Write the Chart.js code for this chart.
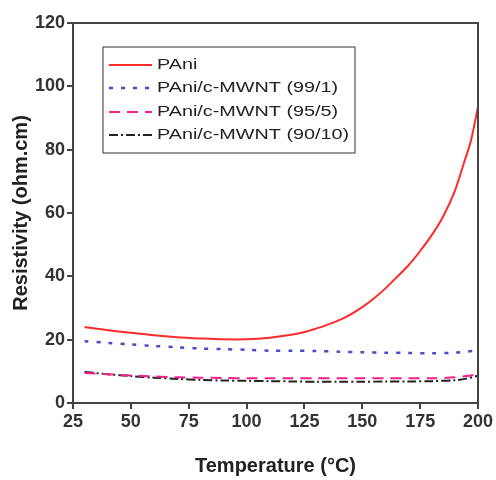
<!DOCTYPE html>
<html>
<head>
<meta charset="utf-8">
<script src="https://cdn.jsdelivr.net/npm/chart.js@4.4.1/dist/chart.umd.min.js"></script>
<style>
html,body{margin:0;padding:0;background:#fff;}
canvas{display:block;}
</style>
</head>
<body>
<canvas id="c" width="496" height="480"></canvas>
<script>
const seriesLabels = ["PAni", "PAni/c-MWNT (99/1)", "PAni/c-MWNT (95/5)", "PAni/c-MWNT (90/10)"];
const tempPAni = [30, 40, 50, 60, 70, 80, 90, 100, 110, 120, 125, 130, 136, 143, 150, 155, 160, 165, 170, 175, 180, 185, 190, 194, 197, 200];
const resPAni  = [24, 23, 22.2, 21.4, 20.8, 20.4, 20.1, 20.1, 20.6, 21.6, 22.4, 23.5, 25, 27.2, 30.3, 33, 36.2, 39.8, 43.5, 48, 53, 59, 67, 76, 83, 93.6];
const tempMix = [30, 40, 50, 60, 70, 80, 90, 100, 110, 120, 130, 140, 150, 160, 170, 180, 190, 195, 200];
const res99_1  = [19.5, 19, 18.5, 18, 17.6, 17.2, 17, 16.8, 16.5, 16.5, 16.4, 16.2, 16, 15.9, 15.8, 15.7, 15.9, 16.2, 16.6];
const res95_5  = [9.5, 9.1, 8.7, 8.4, 8.1, 8, 7.9, 7.8, 7.8, 7.8, 7.8, 7.8, 7.8, 7.8, 7.8, 7.8, 8.1, 8.5, 9.1];
const res90_10 = [9.8, 9.1, 8.5, 8, 7.6, 7.3, 7.1, 7, 6.9, 6.8, 6.7, 6.7, 6.7, 6.8, 6.8, 6.9, 7.2, 7.7, 8.6];
const xTicks = [25, 50, 75, 100, 125, 150, 175, 200];
const yTicks = [0, 20, 40, 60, 80, 100, 120];

const toPts = (xs, ys) => xs.map((x, i) => ({x: x, y: ys[i]}));

const styles = [
  {color: '#ff2a2a', dash: [], width: 2},
  {color: '#4a4ac8', dash: [4, 8], width: 2.5},
  {color: '#f0208c', dash: [11, 7], width: 2},
  {color: '#222222', dash: [9, 3, 2, 3], width: 2}
];
const dataArr = [toPts(tempPAni, resPAni), toPts(tempMix, res99_1), toPts(tempMix, res95_5), toPts(tempMix, res90_10)];

const FONT = '"Liberation Sans", Arial, sans-serif';

const frameLegend = {
  id: 'frameLegend',
  afterDraw(chart) {
    const ctx = chart.ctx, a = chart.chartArea;
    ctx.save();
    ctx.strokeStyle = '#444';
    ctx.lineWidth = 2;
    ctx.beginPath();
    ctx.moveTo(a.left, a.top);
    ctx.lineTo(a.right, a.top);
    ctx.lineTo(a.right, a.bottom);
    ctx.stroke();
    // legend box
    const bx = 103, by = 47, bw = 252, bh = 106;
    ctx.lineWidth = 1.2;
    ctx.strokeStyle = '#555';
    ctx.strokeRect(bx, by, bw, bh);
    ctx.font = '15px ' + FONT;
    ctx.textBaseline = 'middle';
    ctx.fillStyle = '#222';
    const rows = [65, 88, 112, 135];
    chart.data.datasets.forEach((ds, i) => {
      const y = rows[i];
      ctx.save();
      ctx.strokeStyle = ds.borderColor;
      ctx.lineWidth = ds.borderWidth;
      ctx.setLineDash(ds.borderDash || []);
      ctx.beginPath();
      ctx.moveTo(109, y);
      ctx.lineTo(152, y);
      ctx.stroke();
      ctx.restore();
      ctx.save();
      ctx.translate(157, y);
      ctx.scale(1.32, 1);
      ctx.fillText(ds.label, 0, 0);
      ctx.restore();
    });
    ctx.restore();
  }
};

new Chart(document.getElementById('c'), {
  type: 'line',
  data: {
    datasets: dataArr.map((d, i) => ({
      label: seriesLabels[i],
      data: d,
      borderColor: styles[i].color,
      borderDash: styles[i].dash,
      borderWidth: styles[i].width,
      pointRadius: 0,
      tension: 0.3,
      fill: false
    }))
  },
  options: {
    responsive: false,
    animation: false,
    layout: {padding: {left: 0, top: 23, right: 18, bottom: 0}},
    plugins: {legend: {display: false}, tooltip: {enabled: false}},
    scales: {
      x: {
        type: 'linear', min: 25, max: 200,
        afterBuildTicks: s => { s.ticks = xTicks.map(v => ({value: v})); },
        afterFit: s => { s.height = 77; },
        grid: {display: true, drawOnChartArea: false, drawTicks: true, tickLength: 6, color: '#444', lineWidth: 2},
        border: {display: true, color: '#444', width: 2},
        ticks: {color: '#333', padding: 2, font: {family: FONT, size: 18, weight: 'bold'}, maxRotation: 0},
        title: {display: true, text: 'Temperature (°C)', color: '#222', padding: {top: 20, bottom: 2}, font: {family: FONT, size: 20, weight: 'bold'}}
      },
      y: {
        min: 0, max: 120,
        afterBuildTicks: s => { s.ticks = yTicks.map(v => ({value: v})); },
        afterFit: s => { s.width = 73; },
        grid: {display: true, drawOnChartArea: false, drawTicks: true, tickLength: 6, color: '#444', lineWidth: 2},
        border: {display: true, color: '#444', width: 2},
        ticks: {color: '#333', padding: 2, font: {family: FONT, size: 18, weight: 'bold'}},
        title: {display: true, text: 'Resistivity (ohm.cm)', color: '#222', padding: {top: 9, bottom: 4}, font: {family: FONT, size: 20, weight: 'bold'}}
      }
    }
  },
  plugins: [frameLegend]
});
</script>
</body>
</html>
